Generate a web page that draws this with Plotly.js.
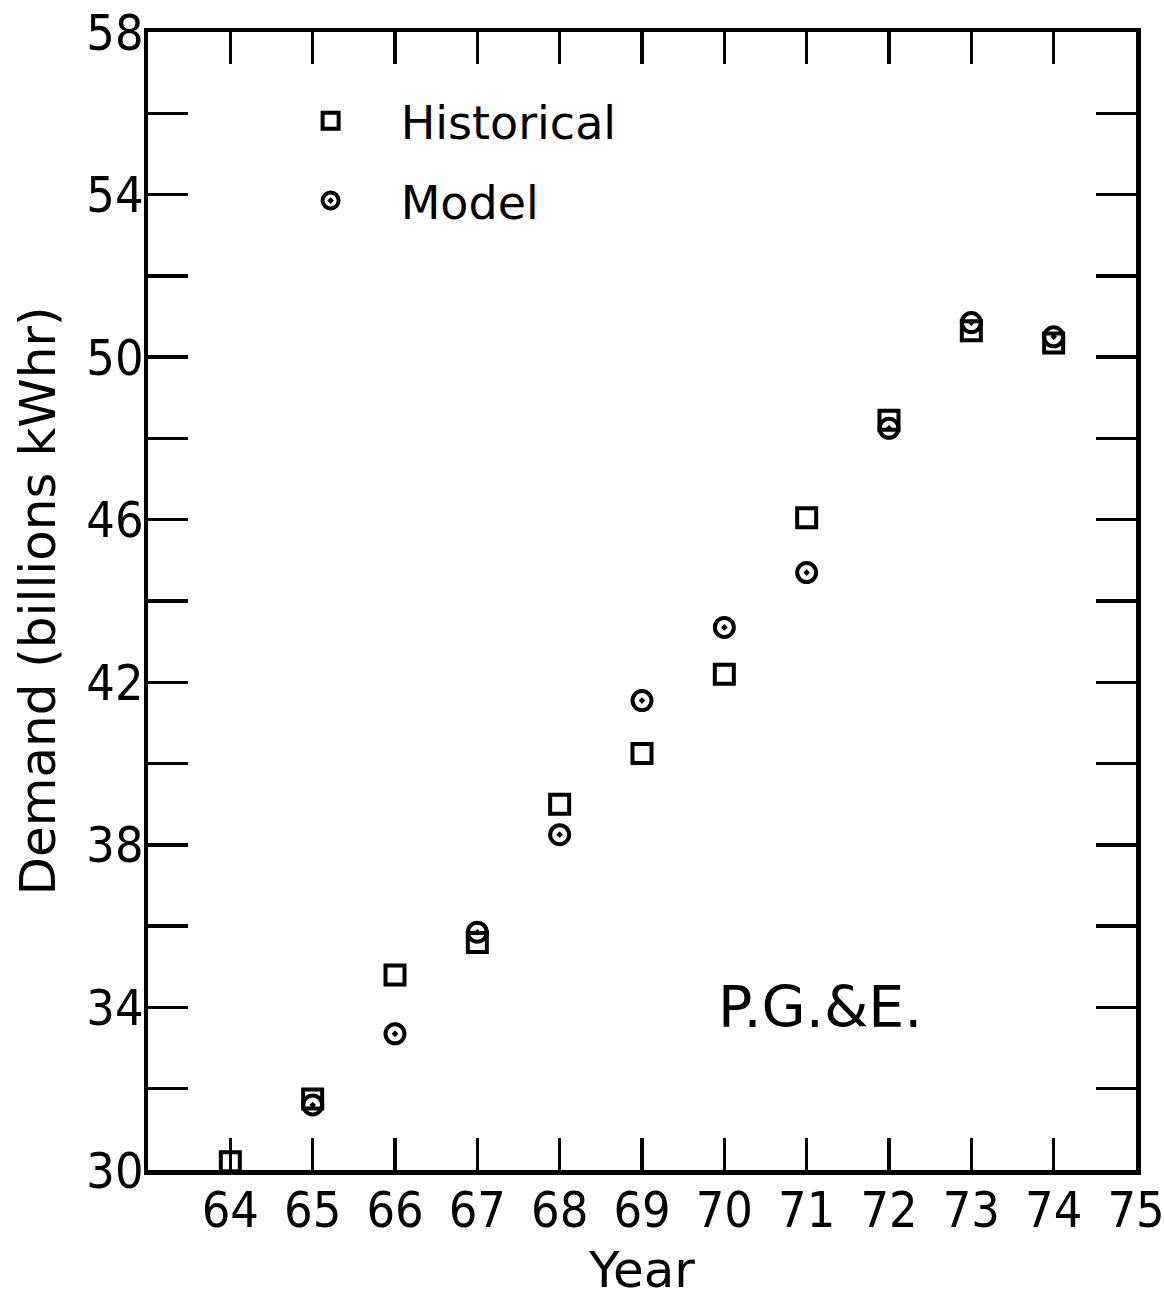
<!DOCTYPE html>
<html>
<head>
<meta charset="utf-8">
<script src="https://cdn.plot.ly/plotly-3.0.1.min.js"></script>
<style>html,body{margin:0;padding:0;background:#fff;}#chart{width:1164px;height:1299px;}</style>
</head>
<body>
<div id="chart"></div>
<script>
const years = [64, 65, 66, 67, 68, 69, 70, 71, 72, 73, 74];
const historical = [30.2, 31.75, 34.8, 35.6, 39.0, 40.25, 42.2, 46.05, 48.45, 50.65, 50.35];
const modelYears = [65, 66, 67, 68, 69, 70, 71, 72, 73, 74];
const model = [31.6, 33.35, 35.85, 38.25, 41.55, 43.35, 44.7, 48.25, 50.85, 50.5];
const xTickVals = [64, 65, 66, 67, 68, 69, 70, 71, 72, 73, 74, 75];
const xTickText = ["64", "65", "66", "67", "68", "69", "70", "71", "72", "73", "74", "75"];
const yTickVals = [30, 32, 34, 36, 38, 40, 42, 44, 46, 48, 50, 52, 54, 56, 58];
const yTickText = ["30", "", "34", "", "38", "", "42", "", "46", "", "50", "", "54", "", "58"];

const textFont = "DejaVu Sans, Open Sans, sans-serif";
const tickFont = "Liberation Sans Narrow, DejaVu Sans Condensed, sans-serif";

const traces = [
  {
    x: years, y: historical, name: "Historical", type: "scatter", mode: "markers",
    legendgroup: "a", legendrank: 1,
    marker: {symbol: "square-open", size: 19, color: "#000", line: {width: 4, color: "#000"}}
  },
  {
    x: modelYears, y: model, name: "Model", type: "scatter", mode: "markers",
    legendgroup: "b", legendrank: 2,
    marker: {symbol: "circle-open-dot", size: 19, color: "#000", line: {width: 4, color: "#000"}}
  }
];

const layout = {
  width: 1164, height: 1299,
  margin: {l: 148, r: 28, t: 32, b: 129},
  paper_bgcolor: "#fff", plot_bgcolor: "#fff",
  showlegend: true,
  legend: {
    x: 0.114, y: 0.954, xanchor: "left", yanchor: "top",
    font: {family: textFont, size: 46, color: "#000"},
    bgcolor: "rgba(0,0,0,0)", borderwidth: 0,
    tracegroupgap: 17, itemwidth: 130, traceorder: "grouped"
  },
  xaxis: {
    range: [63, 75.0001], tickmode: "array", tickvals: xTickVals, ticktext: xTickText,
    ticks: "inside", ticklen: 32, tickwidth: 3.5, tickcolor: "#000",
    showline: true, linewidth: 4.5, linecolor: "#000", mirror: "ticks",
    showgrid: false, zeroline: false,
    tickfont: {family: tickFont, size: 50, color: "#000"},
    ticklabelstandoff: -8, ticklabeloverflow: "allow",
    title: {text: "Year", font: {family: textFont, size: 50, color: "#000"}, standoff: 21}
  },
  yaxis: {
    range: [30, 58], tickmode: "array", tickvals: yTickVals, ticktext: yTickText,
    ticks: "inside", ticklen: 40, tickwidth: 3.5, tickcolor: "#000",
    showline: true, linewidth: 4.5, linecolor: "#000", mirror: "ticks",
    showgrid: false, zeroline: false,
    tickfont: {family: tickFont, size: 50, color: "#000"},
    ticklabelstandoff: -10, ticklabeloverflow: "allow",
    title: {text: "Demand (billions kWhr)", font: {family: textFont, size: 50, color: "#000"}, standoff: 16}
  },
  annotations: [
    {text: "P.G.&E.", x: 71.16, y: 34.0, xref: "x", yref: "y", showarrow: false,
     xanchor: "center", yanchor: "middle",
     font: {family: textFont, size: 57, color: "#000"}}
  ]
};

Plotly.newPlot("chart", traces, layout, {displayModeBar: false, staticPlot: true});
</script>
</body>
</html>
